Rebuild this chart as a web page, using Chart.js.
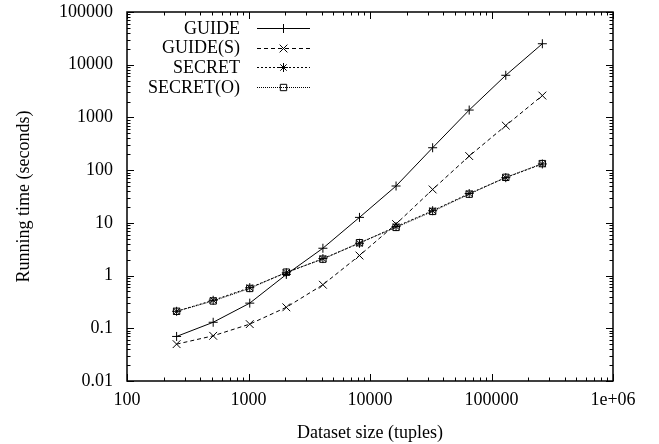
<!DOCTYPE html>
<html>
<head>
<meta charset="utf-8">
<script src="https://cdn.jsdelivr.net/npm/chart.js@4"></script>
<style>
    body { margin: 0; background: #fff; }
    #wrap { width: 659px; height: 444px; }
</style>
</head>
<body>
<div id="wrap"><canvas id="chart"></canvas></div>
<script>
// 데이터
const sizes = [256, 512, 1024, 2048, 4096, 8192, 16384, 32768, 65536, 131072, 262144];
const guide = [0.07, 0.13, 0.30, 1.05, 3.3, 12.7, 50, 266, 1380, 6300, 25000];
const guideS = [0.05, 0.072, 0.12, 0.25, 0.67, 2.4, 9.5, 43, 185, 700, 2600];
const secret = [0.21, 0.34, 0.59, 1.13, 2.1, 4.1, 8.5, 17, 36, 72, 131];
const secretO = [0.21, 0.33, 0.57, 1.16, 2.05, 4.2, 8.2, 16.5, 35, 73, 133];

const xTickValues = [100, 1000, 10000, 100000, 1000000];
const xTickLabels = ['100', '1000', '10000', '100000', '1e+06'];
const yTickValues = [0.01, 0.1, 1, 10, 100, 1000, 10000, 100000];
const yTickLabels = ['0.01', '0.1', '1', '10', '100', '1000', '10000', '100000'];

const FONT = 'Liberation Serif, Times New Roman, serif';

function points(ys) {
    return sizes.map((x, i) => ({ x: x, y: ys[i] }));
}

// gnuplot 스타일 테두리 + 안쪽 눈금
const frame = {
    id: 'frame',
    afterDatasetsDraw(chart) {
        const { ctx, chartArea: a, scales } = chart;
        const xs = scales.x, ys = scales.y;
        ctx.save();
        ctx.strokeStyle = '#000';
        ctx.lineWidth = 1;
        ctx.beginPath();
        const minorLen = 3.5, majorLen = 7;
        const decadeTicks = (vals) => {
            const out = [];
            for (let d = 0; d < vals.length; d++) {
                out.push({ v: vals[d], major: true });
                if (d < vals.length - 1) {
                    for (let m = 2; m <= 9; m++) out.push({ v: vals[d] * m, major: false });
                }
            }
            return out;
        };
        decadeTicks(xTickValues).forEach(t => {
            const px = Math.round(xs.getPixelForValue(t.v)) + 0.5;
            const len = t.major ? majorLen : minorLen;
            ctx.moveTo(px, a.bottom); ctx.lineTo(px, a.bottom - len);
            ctx.moveTo(px, a.top); ctx.lineTo(px, a.top + len);
        });
        decadeTicks(yTickValues).forEach(t => {
            const py = Math.round(ys.getPixelForValue(t.v)) + 0.5;
            const len = t.major ? majorLen : minorLen;
            ctx.moveTo(a.left, py); ctx.lineTo(a.left + len, py);
            ctx.moveTo(a.right, py); ctx.lineTo(a.right - len, py);
        });
        ctx.stroke();
        ctx.lineWidth = 1.5;
        ctx.strokeRect(a.left, a.top, a.right - a.left, a.bottom - a.top);
        ctx.restore();
    }
};

// 범례: 오른쪽 정렬 텍스트 + 선 샘플
const keyBox = {
    id: 'keyBox',
    afterDraw(chart) {
        const ctx = chart.ctx;
        const textRight = 240, lineStart = 257, lineEnd = 310, top = 28, step = 19.7;
        ctx.save();
        chart.data.datasets.forEach((ds, i) => {
            const y = top + i * step;
            ctx.fillStyle = '#000';
            ctx.font = '18px ' + FONT;
            ctx.textAlign = 'right';
            ctx.textBaseline = 'middle';
            ctx.fillText(ds.label, textRight, y + 1);
            ctx.strokeStyle = ds.borderColor;
            ctx.lineWidth = ds.borderWidth;
            ctx.setLineDash(ds.borderDash || []);
            ctx.beginPath();
            ctx.moveTo(lineStart, Math.round(y) + 0.5);
            ctx.lineTo(lineEnd, Math.round(y) + 0.5);
            ctx.stroke();
            ctx.setLineDash([]);
            ctx.fillStyle = 'rgba(0,0,0,0)';
            Chart.helpers.drawPoint(ctx, {
                pointStyle: ds.pointStyle,
                radius: ds.pointRadius,
                borderWidth: 1
            }, (lineStart + lineEnd) / 2, Math.round(y) + 0.5);
        });
        ctx.restore();
    }
};

function series(label, ys, dash, style, radius) {
    return {
        label: label,
        data: points(ys),
        borderColor: '#000',
        backgroundColor: 'transparent',
        borderWidth: 1,
        borderDash: dash,
        pointStyle: style,
        pointRadius: radius,
        pointBorderColor: '#000',
        pointBackgroundColor: 'transparent',
        pointBorderWidth: 1,
        tension: 0
    };
}

new Chart(document.getElementById('chart'), {
    type: 'line',
    data: {
        datasets: [
            series('GUIDE', guide, [], 'cross', 4.5),
            series('GUIDE(S)', guideS, [4, 3], 'crossRot', 5.5),
            series('SECRET', secret, [2, 2], 'star', 4.5),
            series('SECRET(O)', secretO, [1, 1], 'rect', 4.5)
        ]
    },
    plugins: [frame, keyBox],
    options: {
        responsive: true,
        maintainAspectRatio: false,
        animation: false,
        layout: { padding: { left: 0, right: 46, top: 12, bottom: 0 } },
        plugins: {
            legend: { display: false },
            tooltip: { enabled: false }
        },
        scales: {
            x: {
                type: 'logarithmic',
                min: 100,
                max: 1000000,
                afterBuildTicks: s => { s.ticks = xTickValues.map(v => ({ value: v })); },
                afterFit: s => { s.height = 63; s.paddingLeft = 0; s.paddingRight = 0; },
                grid: { display: false, drawTicks: false },
                border: { display: false },
                ticks: {
                    autoSkip: false,
                    maxRotation: 0,
                    padding: 8,
                    color: '#000',
                    font: { family: FONT, size: 18 },
                    callback: (v, i) => xTickLabels[i]
                },
                title: {
                    display: true,
                    text: 'Dataset size (tuples)',
                    color: '#000',
                    font: { family: FONT, size: 18 },
                    padding: { top: 3, bottom: 0 }
                }
            },
            y: {
                type: 'logarithmic',
                min: 0.01,
                max: 100000,
                afterBuildTicks: s => { s.ticks = yTickValues.map(v => ({ value: v })); },
                afterFit: s => { s.width = 127; s.paddingTop = 0; s.paddingBottom = 0; },
                grid: { display: false, drawTicks: false },
                border: { display: false },
                ticks: {
                    autoSkip: false,
                    padding: 14,
                    color: '#000',
                    font: { family: FONT, size: 18 },
                    callback: (v, i) => yTickLabels[i]
                },
                title: {
                    display: true,
                    text: 'Running time (seconds)',
                    color: '#000',
                    font: { family: FONT, size: 18 },
                    padding: { top: 13, bottom: 0 }
                }
            }
        }
    }
});
</script>
</body>
</html>
